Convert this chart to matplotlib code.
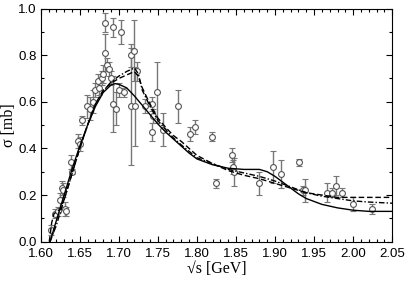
import numpy as np
import matplotlib
matplotlib.use("Agg")
import matplotlib.pyplot as plt
from matplotlib.ticker import MultipleLocator

# experimental points: sqrt(s) [GeV], sigma [mb], error
data_x = [1.613, 1.618, 1.622, 1.625, 1.627, 1.629, 1.631, 1.633, 1.639, 1.640,
          1.648, 1.650, 1.653, 1.659, 1.663, 1.667, 1.670, 1.673, 1.675, 1.678,
          1.680, 1.682, 1.682, 1.685, 1.687, 1.690, 1.692, 1.693, 1.696, 1.700,
          1.703, 1.706, 1.715, 1.716, 1.720, 1.721, 1.723, 1.733, 1.742, 1.744,
          1.743, 1.749, 1.757, 1.776, 1.791, 1.797, 1.819, 1.824, 1.845, 1.846,
          1.847, 1.879, 1.897, 1.908, 1.931, 1.936, 1.938, 1.966, 1.973, 1.978,
          1.986, 2.000, 2.024]
data_y = [0.05, 0.12, 0.13, 0.18, 0.23, 0.22, 0.14, 0.13, 0.34, 0.30,
          0.43, 0.42, 0.52, 0.58, 0.57, 0.60, 0.65, 0.69, 0.66, 0.70,
          0.72, 0.81, 0.94, 0.76, 0.74, 0.70, 0.92, 0.59, 0.57, 0.65,
          0.90, 0.64, 0.80, 0.58, 0.82, 0.58, 0.73, 0.58, 0.59, 0.54,
          0.47, 0.64, 0.48, 0.58, 0.46, 0.49, 0.45, 0.25, 0.37, 0.32,
          0.30, 0.25, 0.32, 0.29, 0.34, 0.22, 0.22, 0.21, 0.21, 0.24,
          0.21, 0.16, 0.14]
data_err = [0.02, 0.02, 0.02, 0.03, 0.03, 0.03, 0.03, 0.02, 0.03, 0.01,
            0.03, 0.03, 0.02, 0.05, 0.05, 0.05, 0.03, 0.03, 0.03, 0.03,
            0.04, 0.08, 0.04, 0.03, 0.03, 0.03, 0.04, 0.12, 0.07, 0.03,
            0.05, 0.02, 0.05, 0.25, 0.13, 0.17, 0.04, 0.03, 0.03, 0.03,
            0.04, 0.13, 0.07, 0.07, 0.03, 0.03, 0.02, 0.02, 0.03, 0.03,
            0.06, 0.05, 0.07, 0.06, 0.015, 0.02, 0.05, 0.04, 0.02, 0.04,
            0.02, 0.03, 0.02]

# model curves
solid_x = [1.612, 1.62, 1.63, 1.64, 1.65, 1.66, 1.67, 1.68, 1.69, 1.695, 1.70,
           1.71, 1.72, 1.73, 1.74, 1.75, 1.76, 1.77, 1.78, 1.79, 1.80, 1.82,
           1.84, 1.86, 1.88, 1.89, 1.90, 1.91, 1.92, 1.93, 1.94, 1.96, 1.98,
           2.00, 2.02, 2.05]
solid_y = [0.0, 0.09, 0.20, 0.31, 0.41, 0.50, 0.58, 0.64, 0.672, 0.678, 0.675,
           0.66, 0.625, 0.585, 0.545, 0.505, 0.47, 0.44, 0.41, 0.38, 0.355, 0.33,
           0.315, 0.31, 0.31, 0.30, 0.28, 0.255, 0.23, 0.205, 0.185, 0.16, 0.145,
           0.135, 0.13, 0.13]

dash_x = [1.611, 1.614, 1.617, 1.621, 1.625, 1.63, 1.64, 1.65, 1.66, 1.67, 1.68,
          1.69, 1.70, 1.71, 1.72, 1.725, 1.73, 1.74, 1.75, 1.76, 1.77, 1.78,
          1.80, 1.82, 1.84, 1.86, 1.88, 1.90, 1.92, 1.94, 1.96, 1.98, 2.00,
          2.02, 2.05]
dash_y = [0.0, 0.08, 0.12, 0.13, 0.14, 0.18, 0.29, 0.40, 0.50, 0.59, 0.65,
          0.68, 0.70, 0.715, 0.73, 0.71, 0.66, 0.59, 0.53, 0.49, 0.455, 0.43,
          0.37, 0.335, 0.305, 0.285, 0.27, 0.25, 0.23, 0.21, 0.20, 0.19, 0.19,
          0.19, 0.19]

dashdot_x = [1.612, 1.62, 1.63, 1.64, 1.65, 1.66, 1.67, 1.68, 1.69, 1.70, 1.71,
             1.72, 1.725, 1.73, 1.74, 1.75, 1.76, 1.77, 1.78, 1.80, 1.82, 1.84,
             1.86, 1.88, 1.90, 1.92, 1.94, 1.96, 1.98, 2.00, 2.02, 2.05]
dashdot_y = [0.0, 0.07, 0.18, 0.29, 0.40, 0.50, 0.59, 0.645, 0.685, 0.71, 0.73,
             0.745, 0.72, 0.65, 0.58, 0.52, 0.48, 0.445, 0.415, 0.36, 0.335, 0.31,
             0.295, 0.28, 0.26, 0.235, 0.21, 0.195, 0.185, 0.175, 0.17, 0.165]

fig = plt.figure(figsize=(4.09, 2.85), dpi=100)
ax = fig.add_axes([0.0995, 0.152, 0.8595, 0.818])

ax.errorbar(data_x, data_y, yerr=data_err, fmt='o', ms=4.2, mfc='white',
            mec='#555555', mew=0.8, ecolor='#777777', elinewidth=1.0,
            capsize=2.5, capthick=0.8, zorder=2)

ax.plot(solid_x, solid_y, '-', color='black', lw=1.0, zorder=3)
ax.plot(dash_x, dash_y, '--', color='black', lw=1.0, dashes=(4, 2), zorder=3)
ax.plot(dashdot_x, dashdot_y, '-.', color='black', lw=1.0,
        dashes=(4, 1.5, 1, 1.5), zorder=3)

ax.set_xlim(1.60, 2.05)
ax.set_ylim(0.0, 1.0)
ax.xaxis.set_major_locator(MultipleLocator(0.05))
ax.xaxis.set_minor_locator(MultipleLocator(0.01))
ax.yaxis.set_major_locator(MultipleLocator(0.2))
ax.yaxis.set_minor_locator(MultipleLocator(0.1))
ax.xaxis.set_major_formatter(matplotlib.ticker.FormatStrFormatter('%.2f'))
ax.yaxis.set_major_formatter(matplotlib.ticker.FormatStrFormatter('%.1f'))
ax.tick_params(which='both', direction='in', top=True, right=True,
               labelsize=9.5, width=0.8)
ax.tick_params(which='major', length=4)
ax.tick_params(axis='x', which='major', pad=4.5)
ax.tick_params(axis='y', which='major', pad=3)
ax.tick_params(which='minor', length=2)
for lab in ax.get_xticklabels() + ax.get_yticklabels():
    lab.set_family(['Liberation Sans', 'DejaVu Sans'])
for s in ax.spines.values():
    s.set_linewidth(0.8)

ax.set_xlabel('√s [GeV]', family=['Liberation Serif', 'DejaVu Serif'], fontsize=11.5,
              labelpad=1)
ax.set_ylabel('σ [mb]', family=['Liberation Serif', 'DejaVu Serif'], fontsize=11.5,
              labelpad=1)

plt.savefig("out.png", dpi=100)
